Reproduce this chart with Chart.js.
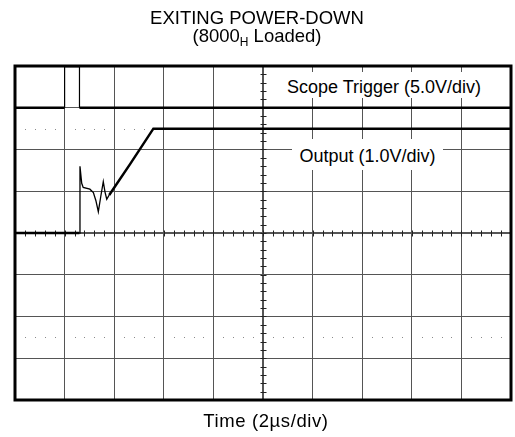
<!DOCTYPE html>
<html><head><meta charset="utf-8">
<script src="https://cdn.jsdelivr.net/npm/chart.js@4.4.0/dist/chart.umd.min.js"></script>
<style>
html,body{margin:0;padding:0;background:#fff;}
#wrap{position:relative;width:515px;height:437px;font-family:"Liberation Sans",Arial,Helvetica,sans-serif;color:#000;overflow:hidden;}
#wrap canvas{position:absolute;left:0;top:0;}
.t{position:absolute;white-space:nowrap;font-size:18.5px;line-height:18.5px;transform:translateX(-50%);}
.t sub{font-size:12px;line-height:0;vertical-align:-4px;}
.lbl{position:absolute;white-space:nowrap;font-size:18px;background:#fff;text-align:center;}
</style></head>
<body><div id="wrap"><canvas id="c" width="515" height="437"></canvas>
<div class="t" style="left:257px;top:9px;">EXITING POWER-DOWN</div>
<div class="t" style="left:257px;top:27px;">(8000<sub>H</sub> Loaded)</div>
<div class="t" style="left:266px;top:412px;letter-spacing:0.6px;">Time (2µs/div)</div>
<div class="lbl" style="left:278px;top:72px;width:212px;height:26px;line-height:30px;">Scope Trigger (5.0V/div)</div>
<div class="lbl" style="left:292px;top:139px;width:151px;height:31px;line-height:35px;">Output (1.0V/div)</div>
</div>
<script>
// Time axis: 2 µs/div, 10 divisions
const timeTicksUs = [0, 2, 4, 6, 8, 10, 12, 14, 16, 18, 20];
// Vertical axis in screen divisions (8 divisions, centre = 0)
const levelTicksDiv = [-4, -3, -2, -1, 0, 1, 2, 3, 4];

// Scope Trigger trace (µs, divisions)
const triggerTime  = [0, 2.0, 2.0, 2.6, 2.6, 20];
const triggerLevel = [3.0, 3.0, 4.0, 4.0, 3.0, 3.0];

// Output trace (µs, divisions; 1.0 V/div)
const outputTime  = [0, 2.6, 2.62, 2.69, 2.75, 3.02, 3.16, 3.26, 3.36, 3.46, 3.56, 3.63, 3.70, 3.80, 4.64, 5.58, 20];
const outputLevel = [0, 0, 1.60, 1.19, 1.09, 1.05, 0.97, 0.78, 0.51, 0.88, 1.23, 0.98, 0.81, 0.91, 1.65, 2.50, 2.50];

// Dotted reference lines (divisions)
const dottedLevels = [2.5, -2.5];

const toPts = (xs, ys) => xs.map((x, i) => ({x: x, y: ys[i]}));

const decor = {
  id: 'decor',
  beforeDatasetsDraw(chart) {
    const {ctx, chartArea: a, scales: {x, y}} = chart;
    ctx.save();
    // dotted lines
    ctx.fillStyle = '#8a8a8a';
    dottedLevels.forEach(lv => {
      const py = Math.round(y.getPixelForValue(lv));
      for (let t = 0; t < 20; t += 0.4) {
        if (Math.abs(t / 2 - Math.round(t / 2)) < 1e-6) continue;
        const px = Math.round(x.getPixelForValue(t));
        ctx.fillRect(px, py, 1, 1);
      }
    });
    // minor ticks on centre axes
    ctx.strokeStyle = '#222';
    ctx.lineWidth = 1;
    const cx = Math.round(x.getPixelForValue(10)) + 0.5;
    const cy = Math.round(y.getPixelForValue(0)) + 0.5;
    ctx.beginPath();
    for (let t = 0.4; t < 20; t += 0.4) {
      const px = Math.round(x.getPixelForValue(t)) + 0.5;
      ctx.moveTo(px, cy - 3); ctx.lineTo(px, cy + 3);
    }
    for (let v = -3.8; v < 4; v += 0.2) {
      const py = Math.round(y.getPixelForValue(v)) + 0.5;
      ctx.moveTo(cx - 3, py); ctx.lineTo(cx + 3, py);
    }
    ctx.stroke();
    ctx.restore();
  },
  afterDraw(chart) {
    const {ctx, chartArea: a} = chart;
    ctx.save();
    ctx.strokeStyle = '#000';
    ctx.lineWidth = 3;
    ctx.strokeRect(a.left, a.top, a.right - a.left, a.bottom - a.top);
    ctx.restore();
  }
};

const gridWidth = c => (c.tick && (c.tick.value === 10 || c.tick.value === 0) ? 2 : 1);

new Chart(document.getElementById('c'), {
  type: 'line',
  data: {
    datasets: [
      {
        label: 'Scope Trigger (5.0V/div)',
        data: toPts(triggerTime, triggerLevel),
        borderColor: '#000', borderWidth: 2.5, pointRadius: 0, tension: 0,
        segment: { borderWidth: c => (c.p0.parsed.x === c.p1.parsed.x ? 1.2 : 2.5) }
      },
      {
        label: 'Output (1.0V/div)',
        data: toPts(outputTime, outputLevel),
        borderColor: '#000', borderWidth: 2.5, pointRadius: 0, tension: 0,
        segment: { borderWidth: c => (c.p0.parsed.x >= 2.6 && c.p1.parsed.x <= 3.81 ? 1.3 : 2.5) }
      }
    ]
  },
  options: {
    responsive: false,
    animation: false,
    devicePixelRatio: 1,
    layout: { padding: { left: 15, top: 66, right: 4, bottom: 37 } },
    plugins: { legend: { display: false }, title: { display: false }, tooltip: { enabled: false } },
    scales: {
      x: {
        type: 'linear', min: timeTicksUs[0], max: timeTicksUs[timeTicksUs.length - 1],
        afterBuildTicks: s => { s.ticks = timeTicksUs.map(v => ({value: v})); },
        ticks: { display: false },
        grid: { color: '#555', lineWidth: c => (c.tick && c.tick.value === 10 ? 2 : 1), drawTicks: false },
        border: { display: false }
      },
      y: {
        type: 'linear', min: levelTicksDiv[0], max: levelTicksDiv[levelTicksDiv.length - 1],
        afterBuildTicks: s => { s.ticks = levelTicksDiv.map(v => ({value: v})); },
        ticks: { display: false },
        grid: { color: '#555', lineWidth: c => (c.tick && c.tick.value === 0 ? 2 : 1), drawTicks: false },
        border: { display: false }
      }
    }
  },
  plugins: [decor]
});
</script>
</body></html>
